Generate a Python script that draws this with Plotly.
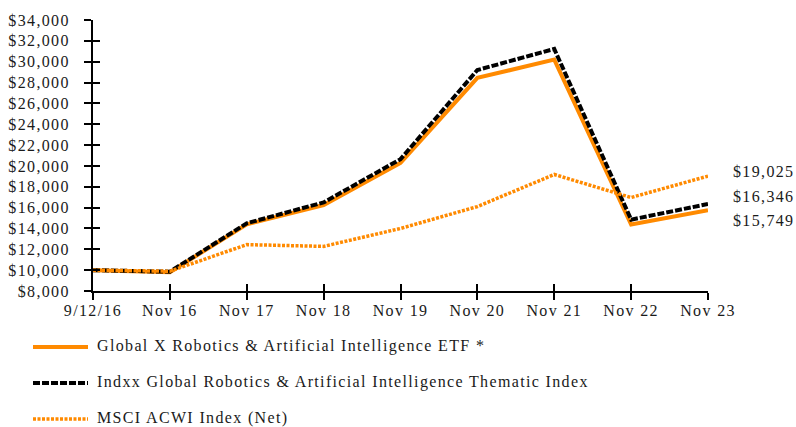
import plotly.graph_objects as go

categories = ["9/12/16", "Nov 16", "Nov 17", "Nov 18", "Nov 19", "Nov 20", "Nov 21", "Nov 22", "Nov 23"]
etf_values = [10000, 9800, 14400, 16250, 20300, 28450, 30200, 14380, 15749]
index_values = [10000, 9850, 14500, 16500, 20650, 29200, 31220, 14850, 16346]
msci_values = [10000, 9900, 12450, 12280, 14000, 16100, 19180, 16970, 19025]

etf_name = "Global X Robotics & Artificial Intelligence ETF *"
index_name = "Indxx Global Robotics & Artificial Intelligence Thematic Index"
msci_name = "MSCI ACWI Index (Net)"

ORANGE = "#FF8A00"
FONT = "Liberation Serif"
TXT = "#1a1a1a"
FS = 16

L, R, T, B = 93, 88, 20, 136
W, H = 796, 427
PW, PH = W - L - R, H - T - B

def px_x(px):
    return (px - L) / PW

def px_y(py):
    return (H - B - py) / PH

styles = [
    (etf_name, dict(color=ORANGE, width=4)),
    (index_name, dict(color="black", width=4, dash="7px,2px")),
    (msci_name, dict(color=ORANGE, width=3.5, dash="3px,1.5px")),
]
series = [etf_values, index_values, msci_values]

fig = go.Figure()
for (name, ln), vals in zip(styles, series):
    fig.add_trace(go.Scatter(x=categories, y=vals, name=name, mode="lines",
                             line=ln, showlegend=False))

# manual legend
for i, (name, ln) in enumerate(styles):
    py = 347 + 36 * i
    fig.add_shape(type="line", xref="paper", yref="paper",
                  x0=px_x(33), x1=px_x(88), y0=px_y(py), y1=px_y(py),
                  line=ln)
    fig.add_annotation(x=px_x(95), xref="paper", y=px_y(py - 1), yref="paper",
                       text=name, showarrow=False, xanchor="left", yanchor="middle",
                       align="left", font=dict(family=FONT, size=FS, color=TXT))

# end labels
labels = [(msci_values[-1], 171), (index_values[-1], 196), (etf_values[-1], 221)]
for val, ypx in labels:
    fig.add_annotation(x=px_x(731), xref="paper", y=px_y(ypx), yref="paper",
                       text=f"${val:,}", showarrow=False, xanchor="left", yanchor="middle",
                       align="left", font=dict(family=FONT, size=FS, color=TXT))

axis_common = dict(showgrid=False, zeroline=False, tickcolor="black", tickwidth=2, ticklen=7)
fig.update_layout(
    width=W, height=H,
    margin=dict(l=L, r=R, t=T, b=B, autoexpand=False),
    paper_bgcolor="white", plot_bgcolor="white",
    font=dict(family=FONT, size=FS, color=TXT),
    showlegend=False,
    xaxis=dict(type="category", range=[0, 8], showline=True, linecolor="black",
               linewidth=2, ticks="outside", ticklabelstandoff=-3,
               tickfont=dict(family=FONT, size=FS, color=TXT), **axis_common),
    yaxis=dict(range=[8000, 34000], dtick=2000, tickprefix="$", tickformat=",d",
               showline=True, linecolor="black", linewidth=2, ticks="outside",
               ticklabelstandoff=11,
               tickfont=dict(family=FONT, size=FS, color=TXT), **axis_common),
    xaxis2=dict(overlaying="x", type="category", range=[0, 8], showline=False,
                ticks="inside", showticklabels=False, side="bottom", anchor="y2",
                **axis_common),
    yaxis2=dict(overlaying="y", range=[8000, 34000], dtick=2000, showline=False,
                ticks="inside", showticklabels=False, side="left", anchor="x2",
                **axis_common),
)
# invisible trace to activate the secondary axes (crossing ticks)
fig.add_trace(go.Scatter(x=categories, y=etf_values, xaxis="x2", yaxis="y2",
                         mode="lines", line=dict(width=0), opacity=0,
                         showlegend=False, hoverinfo="skip"))

post = ("document.body.style.margin='0';"
        "var s=document.createElement('style');"
        "s.textContent='.main-svg text{letter-spacing:1.35px}';"
        "document.head.appendChild(s);")
fig.write_html("out.html", post_script=post, config={"displayModeBar": False})
